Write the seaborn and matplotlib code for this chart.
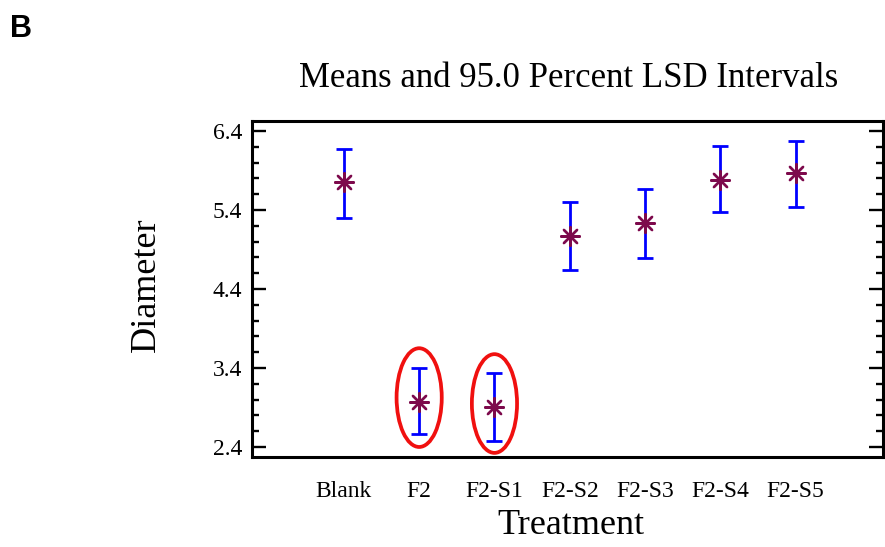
import matplotlib
matplotlib.use("Agg")
import matplotlib.pyplot as plt
from matplotlib.patches import Ellipse
from matplotlib.ticker import MultipleLocator
import numpy as np
import pandas as pd
import seaborn as sns

# LSD interval summary per treatment
treatments = ["Blank", "F2", "F2-S1", "F2-S2", "F2-S3", "F2-S4", "F2-S5"]
means = [5.76, 2.97, 2.91, 5.07, 5.24, 5.78, 5.87]
lower = [5.30, 2.57, 2.48, 4.64, 4.79, 5.38, 5.44]
upper = [6.17, 3.40, 3.34, 5.50, 5.67, 6.21, 6.27]

# groups circled as notably smaller
highlighted = ["F2", "F2-S1"]

yticks = [2.4, 3.4, 4.4, 5.4, 6.4]

df = pd.DataFrame({"Treatment": treatments, "Diameter": means,
                   "lo": lower, "hi": upper})

sns.set_theme(style="white")
plt.rcParams["font.family"] = ["Liberation Serif", "DejaVu Serif"]
plt.rcParams["text.color"] = "black"
plt.rcParams["axes.labelcolor"] = "black"
plt.rcParams["xtick.color"] = "black"
plt.rcParams["ytick.color"] = "black"

fig = plt.figure(figsize=(8.85, 5.47), dpi=100)
ax = fig.add_axes([252 / 885, 1 - 457 / 547, 631 / 885, 336 / 547])

x = np.arange(len(treatments))
ax.errorbar(x, df["Diameter"],
            yerr=[df["Diameter"] - df["lo"], df["hi"] - df["Diameter"]],
            fmt="none", ecolor="#0000ff", elinewidth=2.0, capsize=5.5,
            capthick=2.0, zorder=2)

sns.scatterplot(data=df, x="Treatment", y="Diameter", ax=ax,
                marker=(8, 2, 0), s=180, color="#7d0a4c", linewidth=1.7,
                zorder=3, legend=False)

# red ellipses around the highlighted treatments
for name in highlighted:
    i = treatments.index(name)
    mid = (lower[i] + upper[i]) / 2 + 0.04
    ax.add_patch(Ellipse((i, mid), width=0.6, height=1.25, fill=False,
                         edgecolor="#f0100f", linewidth=2.7, zorder=4))

ax.set_xlim(-1.22, 7.16)
ax.set_ylim(2.273, 6.527)
ax.set_yticks(yticks)
ax.set_yticklabels([f"{v:.1f}" for v in yticks])
ax.yaxis.set_minor_locator(MultipleLocator(0.2))
ax.tick_params(axis="y", which="both", direction="in", left=True, right=True,
               color="black", labelcolor="black", labelsize=17, pad=7)
ax.tick_params(axis="y", which="major", length=10, width=1.7)
ax.tick_params(axis="y", which="minor", length=5, width=1.7)
ax.tick_params(axis="x", which="both", bottom=False, top=False,
               labelcolor="black", labelsize=17, pad=11)

for sp in ax.spines.values():
    sp.set_visible(True)
    sp.set_color("black")
    sp.set_linewidth(2.2)

ax.set_xlabel("Treatment", fontsize=26, va="top", color="black")
ax.set_ylabel("Diameter", fontsize=26, va="center", color="black")
ax.xaxis.set_label_coords((571 - 252) / 631, (457 - 509) / 336)
ax.yaxis.set_label_coords((146 - 252) / 631, (457 - 285) / 336)

fig.text(569 / 885, 1 - 87 / 547, "Means and 95.0 Percent LSD Intervals",
         ha="center", va="baseline", fontsize=25, color="black")
fig.text(10 / 885, 1 - 37 / 547, "B", ha="left", va="baseline",
         fontsize=22, fontweight="bold", color="black",
         family=["Liberation Sans", "DejaVu Sans"])

fig.savefig("out.png", dpi=100)
